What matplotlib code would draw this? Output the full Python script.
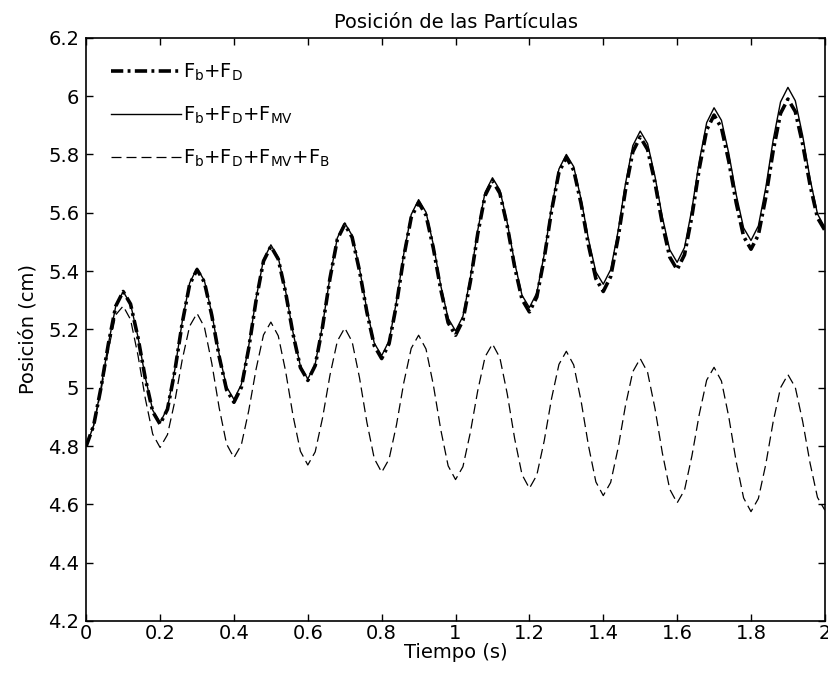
import numpy as np
import matplotlib
matplotlib.use("Agg")
import matplotlib.pyplot as plt

tiempo = np.round(np.arange(0, 2.0001, 0.02), 2)

# F_b + F_D  (punto-raya grueso)
pos_bd = [
    4.80, 4.87, 5.00, 5.15, 5.28, 5.33,
    5.287, 5.173, 5.032, 4.918, 4.875,
    4.926, 5.058, 5.222, 5.354, 5.405,
    5.362, 5.248, 5.107, 4.993, 4.950,
    5.001, 5.135, 5.300, 5.434, 5.485,
    5.441, 5.326, 5.184, 5.069, 5.025,
    5.076, 5.210, 5.375, 5.509, 5.560,
    5.516, 5.401, 5.259, 5.144, 5.100,
    5.151, 5.285, 5.450, 5.584, 5.635,
    5.592, 5.478, 5.337, 5.223, 5.180,
    5.231, 5.363, 5.527, 5.659, 5.710,
    5.667, 5.555, 5.415, 5.303, 5.260,
    5.311, 5.443, 5.607, 5.739, 5.790,
    5.746, 5.631, 5.489, 5.374, 5.330,
    5.381, 5.513, 5.677, 5.809, 5.860,
    5.817, 5.703, 5.562, 5.448, 5.405,
    5.456, 5.588, 5.752, 5.884, 5.935,
    5.891, 5.776, 5.634, 5.519, 5.475,
    5.524, 5.653, 5.812, 5.941, 5.990,
    5.947, 5.835, 5.695, 5.583, 5.540,
]

# F_b + F_D + F_MV  (continua)
pos_bdmv = [
    4.80, 4.87, 5.00, 5.15, 5.28, 5.33,
    5.287, 5.175, 5.035, 4.923, 4.880,
    4.931, 5.063, 5.227, 5.359, 5.410,
    5.367, 5.255, 5.115, 5.003, 4.960,
    5.011, 5.143, 5.307, 5.439, 5.490,
    5.446, 5.331, 5.189, 5.074, 5.030,
    5.081, 5.215, 5.380, 5.514, 5.565,
    5.522, 5.408, 5.267, 5.153, 5.110,
    5.161, 5.295, 5.460, 5.594, 5.645,
    5.602, 5.490, 5.350, 5.238, 5.195,
    5.245, 5.376, 5.539, 5.670, 5.720,
    5.678, 5.566, 5.429, 5.317, 5.275,
    5.325, 5.456, 5.619, 5.750, 5.800,
    5.758, 5.646, 5.509, 5.397, 5.355,
    5.405, 5.536, 5.699, 5.830, 5.880,
    5.837, 5.725, 5.585, 5.473, 5.430,
    5.481, 5.613, 5.777, 5.909, 5.960,
    5.917, 5.803, 5.662, 5.548, 5.505,
    5.555, 5.686, 5.849, 5.980, 6.030,
    5.984, 5.864, 5.716, 5.596, 5.550,
]

# F_b + F_D + F_MV + F_B  (discontinua)
pos_bdmvb = [
    4.80, 4.87, 4.99, 5.13, 5.25, 5.28,
    5.234, 5.112, 4.963, 4.841, 4.795,
    4.839, 4.954, 5.096, 5.211, 5.255,
    5.208, 5.084, 4.931, 4.807, 4.760,
    4.804, 4.921, 5.064, 5.181, 5.225,
    5.178, 5.056, 4.904, 4.782, 4.735,
    4.780, 4.897, 5.043, 5.160, 5.205,
    5.158, 5.034, 4.881, 4.757, 4.710,
    4.755, 4.872, 5.018, 5.135, 5.180,
    5.133, 5.009, 4.856, 4.732, 4.685,
    4.729, 4.846, 4.989, 5.106, 5.150,
    5.103, 4.979, 4.826, 4.702, 4.655,
    4.700, 4.817, 4.963, 5.080, 5.125,
    5.078, 4.954, 4.801, 4.677, 4.630,
    4.675, 4.792, 4.938, 5.055, 5.100,
    5.053, 4.929, 4.776, 4.652, 4.605,
    4.649, 4.766, 4.909, 5.026, 5.070,
    5.023, 4.899, 4.746, 4.622, 4.575,
    4.620, 4.737, 4.883, 5.000, 5.045,
    5.001, 4.884, 4.741, 4.624, 4.580,
]

etiquetas = [r'$\mathrm{F_b}$+$\mathrm{F_D}$',
             r'$\mathrm{F_b}$+$\mathrm{F_D}$+$\mathrm{F_{MV}}$',
             r'$\mathrm{F_b}$+$\mathrm{F_D}$+$\mathrm{F_{MV}}$+$\mathrm{F_B}$']

xticks = [0, 0.2, 0.4, 0.6, 0.8, 1, 1.2, 1.4, 1.6, 1.8, 2]
xticklabels = ['0', '0.2', '0.4', '0.6', '0.8', '1', '1.2', '1.4', '1.6', '1.8', '2']
yticks = [4.2, 4.4, 4.6, 4.8, 5, 5.2, 5.4, 5.6, 5.8, 6, 6.2]
yticklabels = ['4.2', '4.4', '4.6', '4.8', '5', '5.2', '5.4', '5.6', '5.8', '6', '6.2']

plt.rcParams['font.family'] = ['DejaVu Sans']
plt.rcParams['mathtext.fontset'] = 'dejavusans'

fig = plt.figure(figsize=(8.29, 6.75), dpi=100)
ax = fig.add_axes([0.104, 0.08, 0.891, 0.864])

ax.plot(tiempo, pos_bd, color='black', lw=2.6, linestyle=(0, (3.4, 1.2, 0.8, 1.2)),
        label=etiquetas[0])
ax.plot(tiempo, pos_bdmv, color='black', lw=1.0, linestyle='-', label=etiquetas[1])
ax.plot(tiempo, pos_bdmvb, color='black', lw=0.9, linestyle=(0, (8, 4)),
        label=etiquetas[2])

ax.set_xlim(0, 2)
ax.set_ylim(4.2, 6.2)
ax.set_xticks(xticks)
ax.set_xticklabels(xticklabels)
ax.set_yticks(yticks)
ax.set_yticklabels(yticklabels)
ax.tick_params(direction='in', length=5, width=1, top=True, right=True,
               labelsize=14)
ax.tick_params(axis='x', pad=2)
ax.tick_params(axis='y', pad=5)
for s in ax.spines.values():
    s.set_linewidth(1.2)

ax.set_title('Posición de las Partículas', fontsize=14, pad=7)
ax.set_xlabel('Tiempo (s)', fontsize=14, labelpad=0)
ax.set_ylabel('Posición (cm)', fontsize=14, labelpad=8)

ax.legend(loc='upper left', frameon=False, fontsize=14, handlelength=3.6,
          handletextpad=0.15, labelspacing=1.1, borderaxespad=0.85,
          bbox_to_anchor=(0.0, 1.0))

fig.savefig('out.png', dpi=100)
